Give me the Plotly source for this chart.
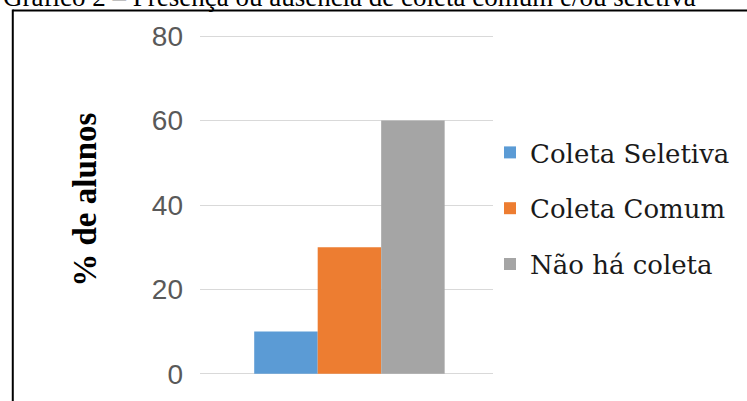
import plotly.graph_objects as go

# Survey data: share of students (%) by type of waste collection
series_names = ["Coleta Seletiva", "Coleta Comum", "Não há coleta"]
series_values = [10, 30, 60]
series_colors = ["#5b9bd5", "#ed7d31", "#a5a5a5"]
category = [""]
y_ticks = [0, 20, 40, 60, 80]

W, H = 747, 401
L, R, T, B = 200, 252, 32, 23
PW, PH = W - L - R, H - T - B


def px_x(p):
    return (p - L) / PW


def px_y(p):
    return (H - B - p) / PH


fig = go.Figure()
for i, (name, val, col) in enumerate(zip(series_names, series_values, series_colors)):
    fig.add_trace(go.Bar(
        x=category, y=[val], name=name,
        marker=dict(color=col, line=dict(width=0)),
        legendgroup=f"g{i}",
    ))

fig.update_layout(
    width=W, height=H,
    margin=dict(l=L, r=R, t=T, b=B),
    paper_bgcolor="white", plot_bgcolor="white",
    barmode="group", bargap=0.35, bargroupgap=0,
    showlegend=True,
    legend=dict(
        x=px_x(492), y=px_y(129), xanchor="left", yanchor="top",
        font=dict(family="DejaVu Serif", size=26, color="#1a1a1a"),
        tracegroupgap=19, bgcolor="rgba(0,0,0,0)",
    ),
    xaxis=dict(
        type="category", range=[-0.51, 0.49],
        showgrid=False, showline=False, showticklabels=False, ticks="",
    ),
    yaxis=dict(
        range=[-1, 81], tickvals=y_ticks, ticktext=[str(v) for v in y_ticks],
        showgrid=True, gridcolor="#d9d9d9", gridwidth=1,
        zeroline=False, showline=False, ticks="",
        tickfont=dict(family="Liberation Sans", size=28, color="#595959"),
        ticklabelstandoff=16,
    ),
    shapes=[
        dict(type="line", xref="paper", yref="paper",
             x0=px_x(11.5), x1=px_x(760), y0=px_y(10.5), y1=px_y(10.5),
             line=dict(color="black", width=2)),
        dict(type="line", xref="paper", yref="paper",
             x0=px_x(11.5), x1=px_x(11.5), y0=px_y(9.5), y1=px_y(420),
             line=dict(color="black", width=2)),
    ],
    annotations=[
        dict(text="<b>% de alunos</b>", textangle=-90,
             xref="paper", yref="paper", x=px_x(84), y=px_y(200),
             xanchor="center", yanchor="middle", showarrow=False,
             font=dict(family="Liberation Serif", size=33, color="black")),
        dict(text="Gráfico 2 – Presença ou ausência de coleta comum e/ou seletiva",
             xref="paper", yref="paper", x=px_x(0), y=px_y(14),
             xanchor="left", yanchor="bottom", showarrow=False,
             font=dict(family="Liberation Serif", size=27, color="black")),
    ],
)

fig.write_html("out.html")
